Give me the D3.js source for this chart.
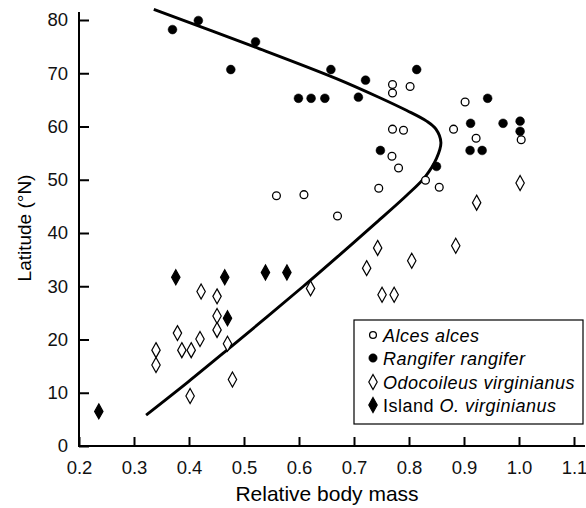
<!DOCTYPE html>
<html>
<head>
<meta charset="utf-8">
<script src="https://cdn.jsdelivr.net/npm/d3@7"></script>
<style>
  body { margin: 0; background: #fff; }
  svg { display: block; font-family: "Liberation Sans", Arial, sans-serif; }
  .axis text { font-size: 18.5px; fill: #111; }
  .axis line { stroke: #000; stroke-width: 2; }
  .legend text { font-size: 18px; fill: #000; letter-spacing: 0.5px; }
</style>
</head>
<body>
<div id="chart"></div>
<script>
// ---- data ------------------------------------------------------------------
var alcesMass = [0.770, 0.770, 0.802, 0.902, 0.770, 0.790, 0.881, 0.922, 1.004, 0.769, 0.781, 0.830, 0.745, 0.855, 0.559, 0.609, 0.670];
var alcesLat  = [67.9, 66.3, 67.5, 64.6, 59.5, 59.3, 59.5, 57.8, 57.5, 54.4, 52.2, 49.9, 48.4, 48.6, 47.0, 47.2, 43.2];

var rangiferMass = [0.370, 0.417, 0.476, 0.521, 0.658, 0.599, 0.622, 0.647, 0.721, 0.708, 0.814, 0.943, 0.912, 0.971, 1.002, 1.002, 0.911, 0.933, 0.748, 0.850];
var rangiferLat  = [78.2, 79.9, 70.7, 75.9, 70.7, 65.3, 65.3, 65.3, 68.7, 65.5, 70.7, 65.3, 60.6, 60.6, 61.0, 59.1, 55.5, 55.5, 55.5, 52.5];

var odoMass = [1.002, 0.923, 0.885, 0.743, 0.805, 0.723, 0.621, 0.751, 0.773, 0.422, 0.451, 0.451, 0.451, 0.379, 0.420, 0.340, 0.340, 0.387, 0.404, 0.470, 0.479, 0.402];
var odoLat  = [49.4, 45.7, 37.6, 37.2, 34.8, 33.4, 29.6, 28.4, 28.4, 29.0, 28.1, 24.4, 21.8, 21.2, 20.1, 18.0, 15.2, 18.0, 18.0, 19.2, 12.5, 9.4];

var islandMass = [0.236, 0.376, 0.465, 0.470, 0.539, 0.578];
var islandLat  = [6.5, 31.7, 31.7, 24.0, 32.6, 32.6];

// fitted curve (mass, latitude)
var curveMass = [0.322, 0.398, 0.469, 0.539, 0.608, 0.675, 0.741, 0.795, 0.829, 0.850, 0.858, 0.849, 0.832, 0.796, 0.745, 0.668, 0.518, 0.336];
var curveLat  = [5.8, 12, 18, 24, 30, 36, 42, 47, 50.5, 54, 57, 59.5, 61, 63, 65.5, 69, 75, 82.0];

var xTicks = [0.2, 0.3, 0.4, 0.5, 0.6, 0.7, 0.8, 0.9, 1.0, 1.1];
var yTicks = [0, 10, 20, 30, 40, 50, 60, 70, 80];

var legendLabels = ["Alces alces", "Rangifer rangifer", "Odocoileus virginianus", "Island O. virginianus"];

// ---- chart -----------------------------------------------------------------
var W = 586, H = 508;
var svg = d3.select("#chart").append("svg")
            .attr("width", W).attr("height", H);

var x = d3.scaleLinear().domain([0.2, 1.1]).range([79, 574]);
var y = d3.scaleLinear().domain([0, 80]).range([446, 20]);

// axes (ticks point inward)
var xAxis = d3.axisBottom(x).tickValues(xTicks).tickFormat(d3.format(".1f"))
              .tickSizeInner(-9).tickSizeOuter(0).tickPadding(15);
var yAxis = d3.axisLeft(y).tickValues(yTicks)
              .tickSizeInner(-10).tickSizeOuter(0).tickPadding(11);

svg.append("g").attr("class", "axis")
   .attr("transform", "translate(0,446)")
   .call(xAxis)
   .call(function(g) { g.select(".domain").remove(); });

svg.append("g").attr("class", "axis")
   .attr("transform", "translate(79,0)")
   .call(yAxis)
   .call(function(g) { g.select(".domain").remove(); });

svg.append("line").attr("x1", 79).attr("x2", 585).attr("y1", 446).attr("y2", 446)
   .attr("stroke", "#000").attr("stroke-width", 2);
svg.append("line").attr("x1", 79).attr("x2", 79).attr("y1", 12).attr("y2", 447)
   .attr("stroke", "#000").attr("stroke-width", 2);

// axis titles
svg.append("text")
   .attr("x", 327).attr("y", 501)
   .attr("text-anchor", "middle")
   .style("font-size", "21px")
   .text("Relative body mass");

svg.append("text")
   .attr("transform", "translate(31,228) rotate(-90)")
   .attr("text-anchor", "middle")
   .style("font-size", "19px")
   .text("Latitude (°N)");

// fitted curve
var line = d3.line()
             .x(function(d) { return x(d[0]); })
             .y(function(d) { return y(d[1]); })
             .curve(d3.curveCatmullRom.alpha(0.5));

svg.append("path")
   .datum(d3.zip(curveMass, curveLat))
   .attr("d", line)
   .attr("fill", "none")
   .attr("stroke", "#000")
   .attr("stroke-width", 2.9);

// markers
var diamond = "M0,-7.5L4.2,0L0,7.5L-4.2,0Z";

function circles(mass, lat, filled) {
    svg.append("g").selectAll("circle")
       .data(d3.zip(mass, lat))
       .enter().append("circle")
       .attr("cx", function(d) { return x(d[0]); })
       .attr("cy", function(d) { return y(d[1]); })
       .attr("r", filled ? 4.4 : 3.9)
       .attr("fill", filled ? "#000" : "#fff")
       .attr("stroke", "#000")
       .attr("stroke-width", filled ? 0.5 : 1.3);
}

function diamonds(mass, lat, filled) {
    svg.append("g").selectAll("path")
       .data(d3.zip(mass, lat))
       .enter().append("path")
       .attr("transform", function(d) { return `translate(${x(d[0])},${y(d[1])})`; })
       .attr("d", diamond)
       .attr("fill", filled ? "#000" : "#fff")
       .attr("stroke", "#000")
       .attr("stroke-width", 1.2);
}

circles(alcesMass, alcesLat, false);
circles(rangiferMass, rangiferLat, true);
diamonds(odoMass, odoLat, false);
diamonds(islandMass, islandLat, true);

// legend
var lg = svg.append("g").attr("class", "legend");
lg.append("rect")
  .attr("x", 354).attr("y", 320).attr("width", 229).attr("height", 104)
  .attr("fill", "#fff").attr("stroke", "#000").attr("stroke-width", 1.2);

var rowY = [335, 358, 382, 405];
legendLabels.forEach(function(lab, i) {
    var sx = 373, sy = rowY[i];
    if (i < 2) {
        lg.append("circle").attr("cx", sx).attr("cy", sy)
          .attr("r", i === 0 ? 3.4 : 4.2)
          .attr("fill", i === 0 ? "#fff" : "#000")
          .attr("stroke", "#000").attr("stroke-width", i === 0 ? 1.3 : 0.5);
    } else {
        lg.append("path").attr("transform", `translate(${sx},${sy})`)
          .attr("d", diamond)
          .attr("fill", i === 2 ? "#fff" : "#000")
          .attr("stroke", "#000").attr("stroke-width", 1.2);
    }
    var t = lg.append("text").attr("x", 383).attr("y", sy + 6.5);
    if (i === 3) {
        t.append("tspan").text("Island ");
        t.append("tspan").style("font-style", "italic").text("O. virginianus");
    } else {
        t.style("font-style", "italic").text(lab);
    }
});
</script>
</body>
</html>
